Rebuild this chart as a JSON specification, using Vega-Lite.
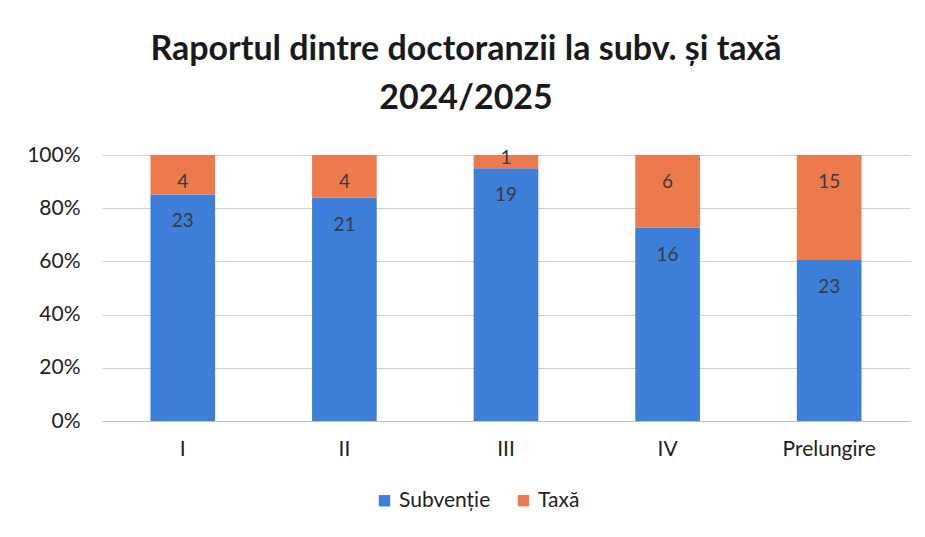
{
  "$schema": "https://vega.github.io/schema/vega-lite/v6.json",
  "autosize": "none",
  "width": 808,
  "height": 266,
  "padding": {"left": 102, "top": 155, "right": 15, "bottom": 116},
  "background": "white",
  "config": {"view": {"stroke": null}, "font": "Lato"},
  "title": {
    "text": ["Raportul dintre doctoranzii la subv. și taxă", "2024/2025"],
    "font": "Lato",
    "fontSize": 34,
    "fontWeight": "bold",
    "color": "#1a1a1a",
    "anchor": "middle",
    "lineHeight": 49,
    "offset": 28,
    "dx": -40
  },
  "data": {
    "values": [
      {"cat": "I", "serie": "Subvenție", "ord": 1, "n": 23},
      {"cat": "I", "serie": "Taxă", "ord": 2, "n": 4},
      {"cat": "II", "serie": "Subvenție", "ord": 1, "n": 21},
      {"cat": "II", "serie": "Taxă", "ord": 2, "n": 4},
      {"cat": "III", "serie": "Subvenție", "ord": 1, "n": 19},
      {"cat": "III", "serie": "Taxă", "ord": 2, "n": 1},
      {"cat": "IV", "serie": "Subvenție", "ord": 1, "n": 16},
      {"cat": "IV", "serie": "Taxă", "ord": 2, "n": 6},
      {"cat": "Prelungire", "serie": "Subvenție", "ord": 1, "n": 23},
      {"cat": "Prelungire", "serie": "Taxă", "ord": 2, "n": 15}
    ]
  },
  "transform": [
    {"stack": "n", "groupby": ["cat"], "sort": [{"field": "ord", "order": "ascending"}], "offset": "normalize", "as": ["y0", "y1"]}
  ],
  "encoding": {
    "x": {
      "field": "cat", "type": "nominal", "sort": ["I", "II", "III", "IV", "Prelungire"],
      "scale": {"paddingInner": 0.6, "paddingOuter": 0.3},
      "axis": {"title": null, "labelAngle": 0, "labelFont": "Lato", "labelFontSize": 21, "labelColor": "#222", "labelPadding": 17, "ticks": false, "domain": true, "domainColor": "#bfbfbf"}
    }
  },
  "layer": [
    {
      "mark": {"type": "bar"},
      "encoding": {
        "y": {
          "field": "y1", "type": "quantitative",
          "scale": {"domain": [0, 1], "nice": false},
          "axis": {"title": null, "format": ".0%", "values": [0, 0.2, 0.4, 0.6, 0.8, 1], "labelFont": "Lato", "labelFontSize": 21, "labelColor": "#222", "labelPadding": 22, "ticks": false, "domain": false, "grid": true, "gridColor": "#d0d0d0", "gridWidth": 1.2}
        },
        "y2": {"field": "y0"},
        "color": {
          "field": "serie", "type": "nominal",
          "scale": {"domain": ["Subvenție", "Taxă"], "range": ["#3D7FD9", "#EC7A4C"]},
          "legend": {
            "title": null, "orient": "none", "direction": "horizontal",
            "legendX": 272, "legendY": 335,
            "symbolType": "square", "symbolSize": 130, "symbolStrokeWidth": 0,
            "labelFont": "Lato", "labelFontSize": 21, "labelColor": "#222",
            "columnPadding": 22, "labelOffset": 4
          }
        }
      }
    },
    {
      "transform": [{"filter": "datum.n > 2"}],
      "mark": {"type": "text", "baseline": "middle", "dy": 27, "fontSize": 19, "font": "Lato", "color": "#3a3a3a"},
      "encoding": {
        "y": {"field": "y1", "type": "quantitative"},
        "text": {"field": "n", "type": "quantitative"}
      }
    },
    {
      "transform": [{"filter": "datum.n <= 2"}],
      "mark": {"type": "text", "baseline": "middle", "dy": 3, "fontSize": 19, "font": "Lato", "color": "#3a3a3a"},
      "encoding": {
        "y": {"field": "y1", "type": "quantitative"},
        "text": {"field": "n", "type": "quantitative"}
      }
    }
  ]
}
